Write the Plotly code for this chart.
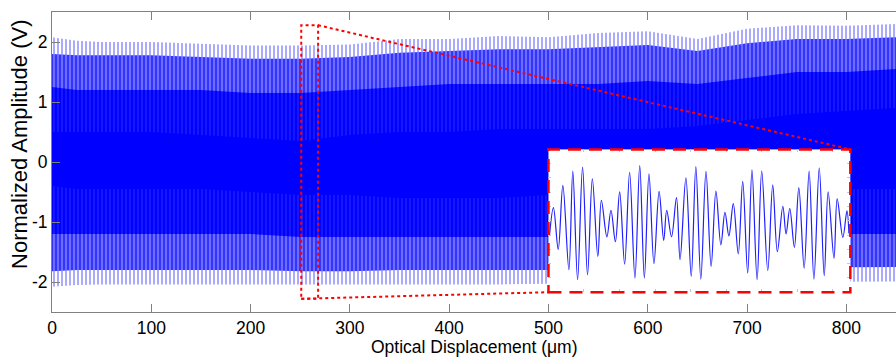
import plotly.graph_objects as go

# ---------------- data ----------------
# Dense interferogram: envelope levels sampled along the displacement axis
X_ENV = [0, 25, 50, 100, 150, 200, 250, 300, 350, 400, 450, 500, 550, 600, 650, 700, 750, 800, 850]
PEAK_TOP = [2.08, 2.02, 2.00, 2.00, 1.97, 1.94, 1.94, 1.96, 2.05, 2.05, 2.10, 2.08, 2.15, 2.18, 2.05, 2.22, 2.28, 2.27, 2.30]
SHOULDER_TOP = [1.80, 1.78, 1.78, 1.78, 1.75, 1.72, 1.72, 1.75, 1.82, 1.85, 1.88, 1.88, 1.92, 1.95, 1.85, 1.98, 2.05, 2.05, 2.08]
MID_TOP = [1.25, 1.20, 1.20, 1.20, 1.20, 1.15, 1.15, 1.20, 1.25, 1.30, 1.30, 1.30, 1.30, 1.35, 1.30, 1.40, 1.50, 1.50, 1.55]
CORE_TOP = [0.50, 0.50, 0.50, 0.50, 0.45, 0.40, 0.35, 0.45, 0.50, 0.50, 0.55, 0.55, 0.55, 0.55, 0.60, 0.70, 0.80, 0.85, 0.90]
CORE_BOTTOM = [-0.40, -0.45, -0.45, -0.45, -0.45, -0.50, -0.55, -0.55, -0.60, -0.60, -0.60, -0.55, -0.50, -0.50, -0.50, -0.50, -0.45, -0.45, -0.45]
MID_BOTTOM = [-1.20, -1.20, -1.20, -1.20, -1.20, -1.20, -1.25, -1.25, -1.25, -1.25, -1.25, -1.25, -1.25, -1.25, -1.25, -1.25, -1.20, -1.20, -1.20]
SHOULDER_BOTTOM = [-1.82, -1.80, -1.80, -1.80, -1.80, -1.80, -1.82, -1.82, -1.80, -1.80, -1.80, -1.80, -1.78, -1.78, -1.78, -1.78, -1.76, -1.75, -1.75]
TROUGH_BOTTOM = [-2.08, -2.05, -2.04, -2.04, -2.04, -2.04, -2.05, -2.05, -2.04, -2.04, -2.04, -2.03, -2.02, -2.02, -2.02, -2.02, -2.00, -1.99, -1.99]

# Zoomed segment (inset): successive extrema of the fringe signal
ZOOM_X = [251.06, 251.28, 251.55, 251.81, 252.15, 252.37, 252.64, 252.92, 253.20, 253.47,
          253.78, 253.98, 254.29, 254.52, 254.77, 255.01, 255.29, 255.57, 255.87, 256.14,
          256.40, 256.66, 256.94, 257.23, 257.49, 257.66, 257.93, 258.21, 258.41, 258.74,
          259.04, 259.30, 259.58, 259.87, 260.16, 260.43, 260.71, 260.94, 261.16, 261.41,
          261.69, 261.94, 262.22, 262.46, 262.75, 263.01, 263.35, 263.63, 263.89, 264.20,
          264.38, 264.59, 264.85, 265.10, 265.40, 265.68, 265.95, 266.25, 266.53, 266.75,
          267.08, 267.26, 267.58, 267.81, 267.92]
ZOOM_Y = [-0.50, 0.46, -1.00, 1.24, -1.71, 1.74, -2.06, 1.88, -1.89, 1.47,
          -1.25, 0.72, -0.56, 0.37, -0.73, 1.01, -1.52, 1.70, -2.00, 1.93,
          -2.00, 1.64, -1.50, 1.03, -0.69, 0.37, -0.56, 0.81, -1.36, 1.50,
          -1.94, 1.90, -2.04, 1.73, -1.60, 1.04, -0.84, 0.30, -0.53, 0.60,
          -1.16, 1.38, -1.83, 1.78, -2.06, 1.74, -1.74, 1.26, -1.08, 0.51,
          -0.46, 0.43, -0.93, 1.16, -1.66, 1.74, -2.04, 1.85, -1.92, 1.01,
          -1.31, 0.77, -0.58, 0.35, -0.44]

X_TICKS = [0, 100, 200, 300, 400, 500, 600, 700, 800]
Y_TICKS = [-2, -1, 0, 1, 2]
Y_TICKTEXT = ["-2", "-1", "0", "1", "2"]

X_RANGE = [0, 850]
Y_RANGE = [-2.5, 2.5]
ZOOM_WINDOW_X = [251, 268]
ZOOM_WINDOW_Y = [-2.28, 2.28]
INSET_BOX_X = [500, 804]
INSET_BOX_Y = [-2.17, 0.21]

X_TITLE = "Optical Displacement (μm)"
Y_TITLE = "Normalized Amplitude (V)"

# ---------------- figure ----------------
FONT = "Liberation Sans, Arial, sans-serif"
BLUE = "#0000ff"
RED = "#ff0000"
AXGRAY = "#808080"

fig = go.Figure()


def band(lower, upper, **kw):
    fig.add_trace(go.Scatter(x=X_ENV, y=lower, mode="lines", line=dict(width=0),
                             hoverinfo="skip", showlegend=False))
    fig.add_trace(go.Scatter(x=X_ENV, y=upper, mode="lines", line=dict(width=0),
                             fill="tonexty", hoverinfo="skip", showlegend=False, **kw))


# tips of the fringes: light strokes on white
band(TROUGH_BOTTOM, PEAK_TOP, fillcolor="#ffffff",
     fillpattern=dict(shape="|", fgcolor="#5656ff", bgcolor="#ffffff", size=4, solidity=0.5))
# outer fringe zone: blue strokes separated by thin white gaps
band(SHOULDER_BOTTOM, SHOULDER_TOP, fillcolor="#7070ff",
     fillpattern=dict(shape="|", fgcolor="#e8e8ff", bgcolor="#3434ff", size=4, solidity=0.32))
# middle zone: nearly solid
band(MID_BOTTOM, MID_TOP, fillcolor="#1010ff",
     fillpattern=dict(shape="|", fgcolor="#5a5aff", bgcolor=BLUE, size=4, solidity=0.25))
# dense core
band(CORE_BOTTOM, CORE_TOP, fillcolor=BLUE)

# inset trace
fig.add_trace(go.Scatter(x=ZOOM_X, y=ZOOM_Y, mode="lines", xaxis="x2", yaxis="y2",
                         line=dict(color="#2020ff", width=1.2, shape="spline", smoothing=1.0),
                         hoverinfo="skip", showlegend=False))

# inset domain (paper fractions from the main data coordinates)
dx = [(v - X_RANGE[0]) / (X_RANGE[1] - X_RANGE[0]) for v in INSET_BOX_X]
dy = [(v - Y_RANGE[0]) / (Y_RANGE[1] - Y_RANGE[0]) for v in INSET_BOX_Y]

tickfont = dict(family=FONT, size=17.5, color="black")

fig.update_layout(
    width=896, height=358,
    margin=dict(l=52, r=0, t=12, b=46, pad=0),
    paper_bgcolor="white", plot_bgcolor="white",
    showlegend=False,
    xaxis=dict(range=X_RANGE, domain=[0, 1], tickvals=X_TICKS, ticks="inside", ticklen=8,
               tickcolor=AXGRAY, showline=True, linecolor=AXGRAY, linewidth=1, mirror="ticks",
               showgrid=False, zeroline=False, tickfont=tickfont),
    yaxis=dict(range=Y_RANGE, domain=[0, 1], tickvals=Y_TICKS, ticktext=Y_TICKTEXT,
               ticks="inside", ticklen=8, tickcolor=AXGRAY, showline=True, linecolor=AXGRAY,
               linewidth=1, mirror=False, showgrid=False, zeroline=False, tickfont=tickfont),
    xaxis2=dict(range=ZOOM_WINDOW_X, domain=dx, anchor="y2", tick0=253, dtick=2,
                ticks="inside", ticklen=3, tickcolor="#c8c8c8", showticklabels=False,
                showline=False, mirror="ticks", showgrid=False, zeroline=False),
    yaxis2=dict(range=Y_RANGE, domain=dy, anchor="x2", tick0=0, dtick=0.5,
                ticks="inside", ticklen=3, tickcolor="#c8c8c8", showticklabels=False,
                showline=False, mirror="ticks", showgrid=False, zeroline=False),
)

# zoom window (dotted) and connector lines
dot = dict(color=RED, width=2, dash="3px,3px")
fig.add_shape(type="rect", xref="x", yref="y",
              x0=ZOOM_WINDOW_X[0], x1=ZOOM_WINDOW_X[1], y0=ZOOM_WINDOW_Y[0], y1=ZOOM_WINDOW_Y[1],
              line=dot, layer="above")
fig.add_shape(type="line", xref="x", yref="y",
              x0=ZOOM_WINDOW_X[1], y0=ZOOM_WINDOW_Y[1], x1=INSET_BOX_X[1], y1=INSET_BOX_Y[1],
              line=dot, layer="above")
fig.add_shape(type="line", xref="x", yref="y",
              x0=ZOOM_WINDOW_X[0], y0=ZOOM_WINDOW_Y[0], x1=INSET_BOX_X[0], y1=INSET_BOX_Y[0],
              line=dot, layer="above")
# inset border (dashed)
fig.add_shape(type="rect", xref="x", yref="y",
              x0=INSET_BOX_X[0], x1=INSET_BOX_X[1], y0=INSET_BOX_Y[0], y1=INSET_BOX_Y[1],
              line=dict(color=RED, width=2.5, dash="13px,8px"), layer="above")

# axis titles
fig.add_annotation(text=X_TITLE, xref="paper", yref="paper", x=0.5, y=-0.1183,
                   xanchor="center", yanchor="middle", showarrow=False,
                   font=dict(family=FONT, size=17.5, color="black"))
fig.add_annotation(text=Y_TITLE, xref="paper", yref="paper", x=-0.038, y=0.56,
                   xanchor="center", yanchor="middle", textangle=-90, showarrow=False,
                   font=dict(family=FONT, size=22, color="black"))

fig.write_html("out.html")
